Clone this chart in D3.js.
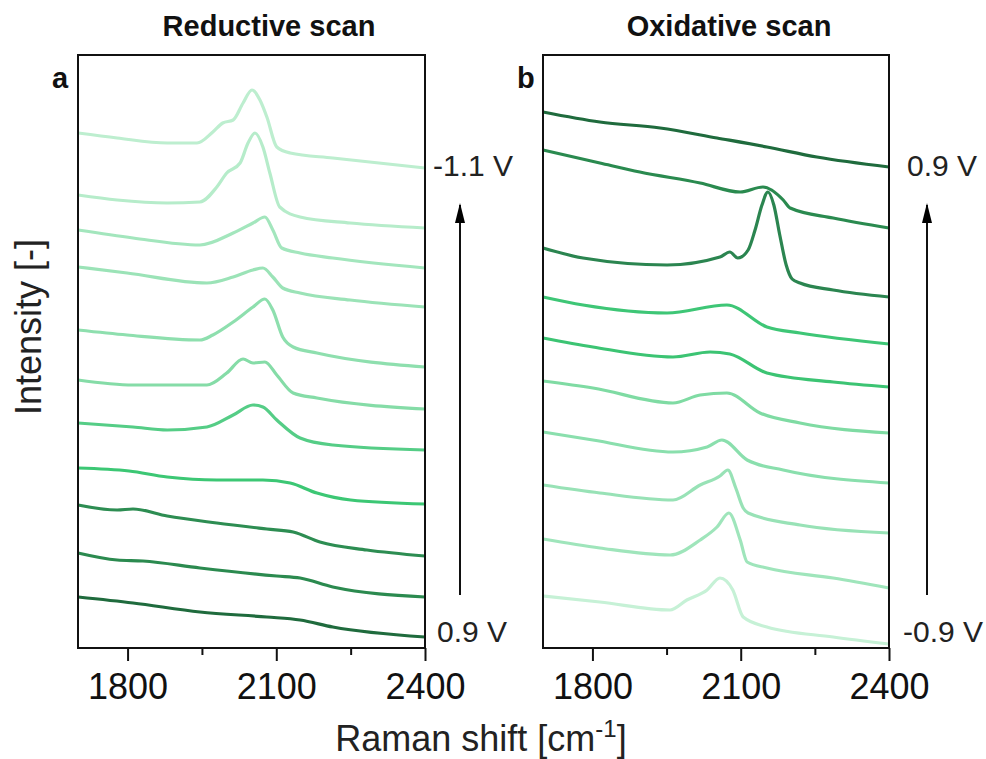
<!DOCTYPE html>
<html>
<head>
<meta charset="utf-8">
<script src="https://cdn.jsdelivr.net/npm/d3@7"></script>
<style>
  body { margin: 0; background: #fff; }
  svg { font-family: "Liberation Sans", Arial, sans-serif; }
</style>
</head>
<body>
<div id="chart"></div>
<script>
// Raman shift axis
const xDomain = [1700, 2400];
const xTicks = [1800, 2100, 2400];
const xMinorTicks = [1950, 2250];

// Reductive scan, top (-1.1 V) to bottom (0.9 V), [shift, intensity a.u.]
const reductiveColors = ['#bdeecf', '#b6ecca', '#a3e6bd', '#9be3b7', '#8edfae', '#85dca7',
  '#55cd86', '#3cc774', '#2d8d52', '#2b8a4f', '#1f6b3d'];
const reductive = [
  [[1700, 515], [1779, 510], [1880, 505], [1940, 505], [1972, 516], [1992, 525], [2013, 528], [2033, 545], [2051, 558], [2067, 548], [2081, 531], [2101, 501], [2128, 495], [2214, 490], [2400, 480]],
  [[1700, 453], [1779, 448], [1880, 445], [1946, 446], [1980, 461], [2000, 475], [2027, 485], [2043, 505], [2057, 515], [2073, 501], [2087, 475], [2107, 441], [2148, 431], [2249, 425], [2400, 420]],
  [[1700, 418], [1811, 410], [1946, 403], [2013, 415], [2053, 425], [2077, 431], [2093, 418], [2111, 400], [2148, 395], [2214, 390], [2400, 380]],
  [[1700, 381], [1799, 375], [1960, 365], [2013, 371], [2053, 378], [2073, 380], [2093, 371], [2113, 360], [2148, 355], [2249, 348], [2400, 341]],
  [[1700, 318], [1799, 313], [1946, 308], [1972, 313], [2013, 326], [2053, 341], [2077, 349], [2093, 338], [2113, 311], [2134, 301], [2182, 295], [2400, 281]],
  [[1700, 268], [1811, 263], [1960, 263], [2000, 275], [2033, 289], [2053, 285], [2077, 286], [2101, 273], [2134, 255], [2182, 250], [2400, 239]],
  [[1700, 225], [1811, 221], [1880, 218], [1960, 221], [2013, 233], [2053, 243], [2073, 241], [2101, 228], [2148, 210], [2214, 203], [2400, 198]],
  [[1700, 180], [1803, 177], [1880, 171], [1980, 168], [2073, 168], [2128, 165], [2182, 155], [2250, 148], [2400, 144]],
  [[1700, 143], [1779, 138], [1811, 139], [1880, 132], [1980, 125], [2081, 119], [2134, 116], [2188, 106], [2283, 98], [2400, 92]],
  [[1700, 95], [1779, 88], [1831, 87], [1946, 80], [2101, 72], [2148, 70], [2214, 61], [2400, 51]],
  [[1700, 51], [1811, 45], [1946, 36], [2081, 31], [2148, 28], [2214, 21], [2400, 11]]
];

// Oxidative scan, top (0.9 V) to bottom (-0.9 V)
const oxidativeColors = ['#1f6b3d', '#2a8a4f', '#2b8550', '#3ec676', '#3cc473', '#7fdba3',
  '#8adfad', '#98e2b6', '#9fe5bb', '#c6f1d6'];
const oxidative = [
  [[1700, 536], [1815, 526], [1937, 520], [2052, 510], [2153, 501], [2254, 491], [2400, 481]],
  [[1700, 498], [1815, 485], [1896, 476], [2018, 465], [2099, 456], [2145, 461], [2186, 448], [2200, 440], [2287, 430], [2400, 420]],
  [[1700, 400], [1781, 390], [1951, 383], [2058, 391], [2078, 396], [2094, 390], [2115, 398], [2129, 418], [2143, 443], [2155, 456], [2167, 443], [2179, 413], [2192, 383], [2204, 369], [2220, 365], [2287, 358], [2400, 351]],
  [[1700, 351], [1781, 343], [1951, 335], [2072, 343], [2153, 321], [2220, 315], [2400, 304]],
  [[1700, 310], [1801, 301], [1963, 291], [2038, 296], [2078, 294], [2153, 275], [2287, 266], [2400, 261]],
  [[1700, 267], [1801, 260], [1963, 245], [2018, 253], [2072, 255], [2139, 235], [2220, 225], [2400, 215]],
  [[1700, 216], [1801, 208], [1963, 196], [2032, 201], [2062, 208], [2113, 188], [2186, 178], [2400, 165]],
  [[1700, 163], [1815, 155], [1963, 148], [2018, 163], [2058, 172], [2074, 178], [2090, 160], [2105, 140], [2115, 135], [2220, 123], [2400, 115]],
  [[1700, 109], [1815, 100], [1957, 93], [2018, 108], [2052, 121], [2076, 135], [2099, 108], [2113, 86], [2153, 80], [2287, 70], [2400, 60]],
  [[1700, 52], [1815, 46], [1957, 38], [1991, 48], [2032, 58], [2058, 70], [2084, 58], [2105, 31], [2153, 21], [2287, 11], [2400, 4]]
];

const config = {
  width: 986,
  height: 759,
  top: 55,
  bottom: 648,
  yMax: 593
};

const svg = d3.select('#chart').append('svg')
  .attr('width', config.width)
  .attr('height', config.height);

// pointe de flèche orientée le long de la ligne
svg.append('defs').append('marker')
  .attr('id', 'arrow')
  .attr('viewBox', '0 0 20 10')
  .attr('refX', 18).attr('refY', 5)
  .attr('markerWidth', 20).attr('markerHeight', 10)
  .attr('markerUnits', 'userSpaceOnUse')
  .attr('orient', 'auto')
  .append('path')
  .attr('d', 'M0,0 L20,5 L0,10 Z')
  .attr('fill', '#000');

const yScale = d3.scaleLinear().domain([0, config.yMax]).range([config.bottom, config.top]);

function drawPanel (panel) {
  const x = d3.scaleLinear().domain(xDomain).range([panel.left, panel.right]);
  const g = svg.append('g');

  const line = d3.line()
    .x(d => x(d[0]))
    .y(d => yScale(d[1]))
    .curve(d3.curveMonotoneX);

  g.selectAll('path.trace')
    .data(panel.data)
    .enter()
    .append('path')
    .attr('class', 'trace')
    .attr('d', line)
    .attr('fill', 'none')
    .attr('stroke', (d, i) => panel.colors[i])
    .attr('stroke-width', 3.2)
    .attr('stroke-linejoin', 'round');

  // cadre
  g.append('rect')
    .attr('x', panel.left)
    .attr('y', config.top)
    .attr('width', panel.right - panel.left)
    .attr('height', config.bottom - config.top)
    .attr('fill', 'none')
    .attr('stroke', '#111')
    .attr('stroke-width', 2);

  // axe x
  const axis = g.append('g')
    .attr('transform', `translate(0, ${config.bottom})`)
    .call(d3.axisBottom(x).tickValues(xTicks).tickSize(13).tickPadding(12).tickFormat(d3.format('d')));
  axis.select('.domain').remove();
  axis.selectAll('line').attr('stroke', '#111').attr('stroke-width', 2);
  axis.selectAll('text')
    .attr('font-size', 36)
    .attr('fill', '#111')
    .attr('font-family', '"Liberation Sans", Arial, sans-serif');

  const minor = g.append('g')
    .attr('transform', `translate(0, ${config.bottom})`)
    .call(d3.axisBottom(x).tickValues(xMinorTicks).tickSize(7).tickFormat(''));
  minor.select('.domain').remove();
  minor.selectAll('line').attr('stroke', '#111').attr('stroke-width', 2);

  // titre
  svg.append('text')
    .attr('x', panel.titleX)
    .attr('y', 36)
    .attr('text-anchor', 'middle')
    .attr('font-size', 29)
    .attr('font-weight', 'bold')
    .attr('fill', '#111')
    .text(panel.title);

  svg.append('text')
    .attr('x', panel.letterX)
    .attr('y', 88)
    .attr('font-size', 29)
    .attr('font-weight', 'bold')
    .attr('fill', '#111')
    .text(panel.letter);

  // potentiels
  svg.append('text')
    .attr('x', panel.labelX)
    .attr('y', 176)
    .attr('font-size', 30)
    .attr('fill', '#222')
    .text(panel.topLabel);
  svg.append('text')
    .attr('x', panel.labelX + panel.bottomShift)
    .attr('y', 642)
    .attr('font-size', 30)
    .attr('fill', '#222')
    .text(panel.bottomLabel);

  svg.append('line')
    .attr('x1', panel.arrowX).attr('x2', panel.arrowX)
    .attr('y1', 595).attr('y2', 205)
    .attr('stroke', '#111')
    .attr('stroke-width', 2)
    .attr('marker-end', 'url(#arrow)');
}

drawPanel({
  left: 78, right: 425, data: reductive, colors: reductiveColors,
  title: 'Reductive scan', titleX: 269, letter: 'a', letterX: 52,
  topLabel: '-1.1 V', bottomLabel: '0.9 V', labelX: 433, bottomShift: 4, arrowX: 460
});
drawPanel({
  left: 543, right: 889, data: oxidative, colors: oxidativeColors,
  title: 'Oxidative scan', titleX: 729, letter: 'b', letterX: 517,
  topLabel: '0.9 V', bottomLabel: '-0.9 V', labelX: 907, bottomShift: -4, arrowX: 927
});

// titres des axes
svg.append('text')
  .attr('transform', 'translate(41, 327) rotate(-90)')
  .attr('text-anchor', 'middle')
  .attr('font-size', 36)
  .attr('fill', '#222')
  .text('Intensity [-]');

const xTitle = svg.append('text')
  .attr('x', 481)
  .attr('y', 751)
  .attr('text-anchor', 'middle')
  .attr('font-size', 36)
  .attr('fill', '#222');
xTitle.append('tspan').text('Raman shift [cm');
xTitle.append('tspan').attr('font-size', 24).attr('dy', -14).text('-1');
xTitle.append('tspan').attr('dy', 14).text(']');
</script>
</body>
</html>
